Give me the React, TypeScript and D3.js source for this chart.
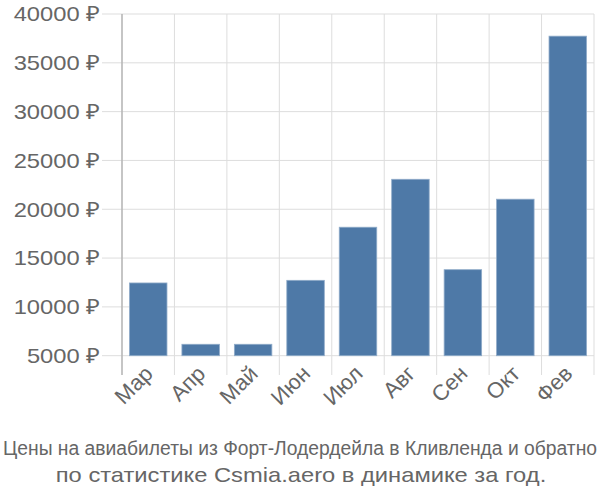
import React from "react";
import * as d3 from "d3";

const categories = ["Мар", "Апр", "Май", "Июн", "Июл", "Авг", "Сен", "Окт", "Фев"];
const prices = [12450, 6170, 6170, 12720, 18160, 23070, 13810, 21030, 37730];
const yTicks = [5000, 10000, 15000, 20000, 25000, 30000, 35000, 40000];
const titleLines = [
  "Цены на авиабилеты из Форт-Лодердейла в Кливленда и обратно",
  "по статистике Csmia.aero в динамике за год.",
];

const W = 600;
const H = 500;
const left = 122;
const right = 594;
const top = 14;
const bottom = 355.7;
const font = "'Liberation Sans', Arial, sans-serif";
const stretch = 1.13;

export default function App() {
  const x = d3.scaleBand<string>().domain(categories).range([left, right]).paddingInner(0.285).paddingOuter(0.1425);
  const y = d3.scaleLinear().domain([5000, 40000]).range([bottom, top]);
  const step = x.step();
  const gridXs = d3.range(categories.length + 1).map((i) => left + i * step);

  return (
    <svg width={W} height={H} style={{ position: "absolute", left: 0, top: 0 }} fontFamily={font}>
      <rect width={W} height={H} fill="#fff" />
      {yTicks.map((t) => (
        <line key={"gy" + t} x1={102} x2={right} y1={y(t)} y2={y(t)} stroke="#dddddd" strokeWidth={1} />
      ))}
      {gridXs.map((gx, i) => (
        <line key={"gx" + i} x1={gx} x2={gx} y1={top} y2={375} stroke="#dddddd" strokeWidth={1} />
      ))}
      <line x1={left} x2={left} y1={top} y2={375} stroke="#aaaaaa" strokeWidth={1.2} />
      {categories.map((c, i) => (
        <rect
          key={c}
          x={x(c)}
          y={y(prices[i])}
          width={x.bandwidth()}
          height={bottom - y(prices[i])}
          fill="#4e79a7"
          stroke="#8fabc9"
          strokeWidth={0.8}
        />
      ))}
      {yTicks.map((t) => (
        <text
          key={"ty" + t}
          x={0}
          y={0}
          dy="0.35em"
          textAnchor="end"
          fontSize={21}
          fill="#666"
          transform={`translate(100 ${y(t)}) scale(${stretch} 1)`}
        >
          {t} ₽
        </text>
      ))}
      {categories.map((c) => {
        const cx = (x(c) as number) + x.bandwidth() / 2 + 6;
        const cy = 375;
        return (
          <text
            key={"tx" + c}
            x={cx}
            y={cy}
            textAnchor="end"
            fontSize={22}
            fill="#666"
            transform={`rotate(-45 ${cx} ${cy})`}
          >
            {c}
          </text>
        );
      })}
      <text x={300} y={455} textAnchor="middle" fontSize={20} fill="#666" textLength={594} lengthAdjust="spacingAndGlyphs">
        {titleLines[0]}
      </text>
      <text
        x={0}
        y={0}
        textAnchor="middle"
        fontSize={21}
        fill="#666"
        transform={`translate(301 482) scale(${stretch} 1)`}
      >
        {titleLines[1]}
      </text>
    </svg>
  );
}
